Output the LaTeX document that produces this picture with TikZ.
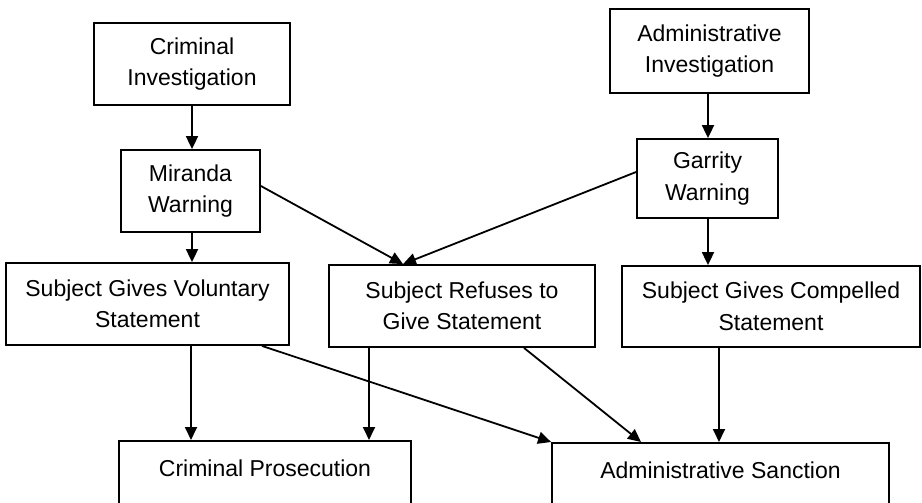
\documentclass[tikz,border=0pt]{standalone}
\usepackage{fontspec}
\setmainfont{Liberation Sans}
\usetikzlibrary{arrows.meta}
\begin{document}
\begin{tikzpicture}[x=1pt,y=-1pt,
  box/.style={draw, line width=1.8pt, align=center, inner sep=0pt,
    font=\fontsize{23}{31.5}\selectfont},
  openbox/.style={draw, line width=1.8pt, inner sep=0pt, anchor=north,
    text height=36pt, text depth=40pt, font=\fontsize{23}{31.5}\selectfont},
  conn/.style={line width=1.8pt, -{Triangle[length=13pt,width=12pt]}}]
\useasboundingbox (0,0) rectangle (922,503);
\clip (0,0) rectangle (922,503);
\fill[white] (0,0) rectangle (922,503);
\node[box, minimum width=196pt, minimum height=82pt] (ci) at (192,64) {Criminal\\Investigation};
\node[box, minimum width=139pt, minimum height=82pt] (mw) at (190.5,191) {Miranda\\Warning};
\node[box, minimum width=199pt, minimum height=84pt] (ai) at (709.5,51) {Administrative\\Investigation};
\node[box, minimum width=141pt, minimum height=79pt] (gw) at (707.5,178.5) {Garrity\\Warning};
\node[box, minimum width=283pt, minimum height=82pt] (sv) at (147.5,304) {Subject Gives Voluntary\\Statement};
\node[box, minimum width=266pt, minimum height=82pt] (sr) at (462,306) {Subject Refuses to\\Give Statement};
\node[box, minimum width=298pt, minimum height=81pt] (sc) at (771,306.5) {Subject Gives Compelled\\Statement};
\node[openbox, minimum width=292pt] (cp) at (265,440) {Criminal Prosecution};
\node[openbox, minimum width=337pt] (as) at (720.5,442) {Administrative Sanction};
% connectors
\draw[conn] (ci.south -| 192,0) -- (192,0 |- mw.north);
\draw[conn] (mw.south -| 192,0) -- (192,0 |- sv.north);
\coordinate (srtop) at (403,0 |- sr.north);
\draw[conn] (mw.east |- 0,186) -- (srtop);
\draw[conn] (gw.west |- 0,172) -- (srtop);
\draw[conn] (ai.south -| 708,0) -- (708,0 |- gw.north);
\draw[conn] (gw.south -| 708,0) -- (708,0 |- sc.north);
\draw[conn] (sv.south -| 191,0) -- (191,0 |- cp.north);
\draw[conn] (sr.south -| 369,0) -- (369,0 |- cp.north);
\draw[conn] (sv.south -| 262,0) -- (as.north west);
\draw[conn] (sr.south -| 524,0) -- (641,0 |- as.north);
\draw[conn] (sc.south -| 719,0) -- (719,0 |- as.north);
\end{tikzpicture}
\end{document}
